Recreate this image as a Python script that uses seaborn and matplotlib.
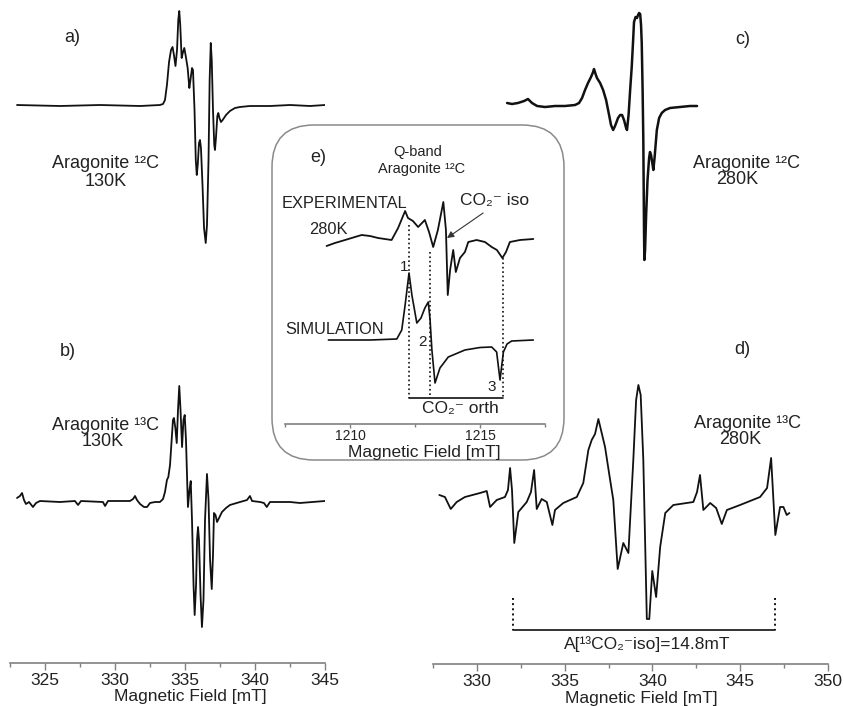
import numpy as np
import pandas as pd
import matplotlib
matplotlib.use("Agg")
import matplotlib.pyplot as plt
import seaborn as sns
from matplotlib.patches import FancyBboxPatch
from matplotlib.ticker import MultipleLocator

# ---------------- data ----------------
# a) Aragonite 12C, 130K  (field in mT, signal in arbitrary units)
A_FIELD = [323.0, 326.07, 328.93, 331.79, 333.21, 333.43, 333.57, 333.71, 333.86, 334.0,
           334.11, 334.21, 334.32, 334.43, 334.52, 334.59, 334.66, 334.76, 334.86, 334.95,
           335.04, 335.19, 335.31, 335.39, 335.5, 335.57, 335.68, 335.77, 335.84, 335.91,
           336.0, 336.07, 336.14, 336.25, 336.36, 336.48, 336.57, 336.68, 336.76, 336.84,
           336.91, 337.0, 337.09, 337.14, 337.21, 337.31, 337.38, 337.46, 337.57, 337.69,
           337.93, 338.21, 338.57, 338.93, 339.64, 341.07, 342.5, 343.93, 345.0]
A_SIGNAL = [0, -1, 0, -1, 0, 1, 5, 20, 43, 55,
            58, 50, 39, 55, 85, 94, 80, 47, 53, 57,
            50, 37, 17, 25, 37, 35, -5, -55, -70, -60,
            -38, -35, -43, -80, -123, -138, -120, -55, 25, 62,
            45, -5, -40, -45, -33, -11, -8, -13, -17, -15,
            -10, -6, -3, -2, -1, -1, 0, -1, 0]

# b) Aragonite 13C, 130K
B_FIELD = [323.0, 323.21, 323.36, 323.5, 323.64, 323.86, 324.14, 324.36, 324.64, 326.07,
           327.14, 327.36, 327.57, 329.14, 329.29, 329.5, 331.07, 331.29, 331.43, 331.57,
           331.79, 332.07, 332.29, 332.5, 332.86, 333.21, 333.43, 333.57, 333.71, 333.81,
           333.93, 334.07, 334.14, 334.21, 334.31, 334.41, 334.5, 334.59, 334.68, 334.79,
           334.89, 334.98, 335.07, 335.21, 335.32, 335.41, 335.5, 335.61, 335.69, 335.79,
           335.86, 335.93, 336.0, 336.11, 336.21, 336.32, 336.43, 336.57, 336.68, 336.79,
           336.91, 337.0, 337.07, 337.18, 337.29, 337.43, 337.64, 337.93, 338.21, 338.93,
           339.43, 339.64, 339.79, 340.36, 340.64, 340.84, 341.07, 342.5, 343.21, 345.0]
B_SIGNAL = [4, 6, 9, 2, -2, 0, -5, -1, 1, 0,
            1, -3, 1, 0, -4, 1, 1, 3, 6, 2,
            -2, -5, -5, -1, 0, 0, 3, 10, 22, 25,
            37, 67, 82, 84, 74, 59, 92, 116, 92, 55,
            82, 87, 62, -5, 12, 21, -18, -83, -113, -83,
            -38, -25, -38, -93, -125, -98, -18, 28, 2, -58,
            -87, -53, -11, -13, -20, -16, -10, -6, -3, 0,
            2, 6, 1, 0, -1, -5, 0, 0, -1, 1]

# c) Aragonite 12C, 280K
C_FIELD = [331.72, 332.00, 332.34, 332.69, 332.91, 333.14, 333.43, 333.88, 334.45, 335.02,
           335.59, 335.82, 335.99, 336.16, 336.33, 336.50, 336.62, 336.67, 336.76, 336.84,
           337.02, 337.19, 337.36, 337.53, 337.64, 337.76, 337.87, 338.04, 338.16, 338.27,
           338.38, 338.50, 338.55, 338.64, 338.73, 338.82, 338.90, 338.95, 339.04, 339.12,
           339.18, 339.24, 339.30, 339.35, 339.39, 339.44, 339.48, 339.52, 339.54, 339.58,
           339.64, 339.72, 339.81, 339.86, 339.92, 340.01, 340.05, 340.12, 340.25, 340.38,
           340.53, 340.72, 341.00, 341.57, 342.14, 342.54]
C_SIGNAL = [2, 1, 2, 4, 6, 2, -1, -2, -1, -1,
            0, 2, 7, 15, 22, 28, 33, 36, 31, 27,
            22, 15, 5, -10, -20, -25, -21, -13, -10, -10,
            -15, -23, -25, -10, 15, 38, 65, 83, 88, 87,
            90, 92, 91, 80, 62, 15, -35, -125, -155, -145,
            -110, -75, -53, -47, -50, -60, -65, -53, -25, -13,
            -8, -5, -3, -2, -1, -1]

# d) Aragonite 13C, 280K
D_FIELD = [327.86, 328.18, 328.51, 328.85, 329.32, 330.18, 330.56, 330.75, 331.13, 331.60,
           331.77, 331.89, 332.00, 332.13, 332.36, 332.84, 333.08, 333.26, 333.41, 333.69,
           333.98, 334.30, 334.45, 334.92, 335.69, 336.06, 336.35, 336.54, 336.73, 336.92,
           337.30, 337.59, 337.77, 338.02, 338.34, 338.63, 338.91, 339.07, 339.20, 339.33,
           339.48, 339.68, 339.82, 339.99, 340.21, 340.44, 340.73, 341.19, 342.33, 342.54,
           342.71, 342.90, 343.29, 343.63, 343.95, 344.24, 344.99, 346.13, 346.53, 346.76,
           347.00, 347.27, 347.46, 347.65, 347.80]
D_SIGNAL = [5, 3, -9, -2, 3, 7, 9, -7, 0, 3,
            10, 32, 10, -43, -12, -2, 8, 30, -9, 1,
            -2, -25, -10, -3, 3, 17, 50, 60, 66, 81,
            53, 20, 0, -69, -43, -53, 40, 100, 115, 105,
            40, -119, -119, -71, -97, -47, -13, -5, -2, 8,
            25, -10, -3, -8, -24, -10, -5, 3, 12, 42,
            -35, -7, -7, -15, -13]
D_HYPERFINE = [332.03, 346.99]   # A[13CO2- iso] = 14.8 mT

# e) Q-band inset
E_EXP_FIELD = [1209.10, 1209.42, 1209.81, 1210.19, 1210.45, 1210.77, 1211.08, 1211.60, 1211.85, 1212.12,
               1212.23, 1212.42, 1212.62, 1212.88, 1213.04, 1213.20, 1213.38, 1213.59, 1213.69, 1213.76,
               1213.85, 1213.97, 1214.07, 1214.23, 1214.42, 1214.55, 1214.87, 1215.19, 1215.45, 1215.65,
               1215.86, 1216.00, 1216.15, 1216.54, 1217.05]
E_EXP_SIGNAL = [-6, -3, 0, 3, 5, 4, 2, 0, 12, 29,
                22, 19, 13, 20, 8, -7, 10, 38, 10, -55,
                -30, -10, -32, -18, -12, -2, 0, -2, -7, -10,
                -18, -12, -2, 0, 1]
E_SIM_FIELD = [1209.17, 1210.77, 1211.80, 1211.99, 1212.12, 1212.27, 1212.38, 1212.57, 1212.73, 1212.88,
               1213.01, 1213.08, 1213.15, 1213.27, 1213.46, 1213.78, 1214.42, 1215.00, 1215.45, 1215.64,
               1215.77, 1215.90, 1216.04, 1216.22, 1217.05]
E_SIM_SIGNAL = [0, 0, 1, 10, 35, 67, 45, 17, 22, 32,
                38, 20, -10, -43, -28, -17, -10, -7.5, -7, -12,
                -40, -12, -4, -1, 0]
E_ORTH_FIELDS = [1212.27, 1213.08, 1215.90]

# ---------------- style ----------------
sns.set_theme(style="white")
plt.rcParams['font.family'] = ['Liberation Sans', 'DejaVu Sans']

W, H = 845, 706
fig = plt.figure(figsize=(W / 100, H / 100), dpi=100)
fig.patch.set_facecolor('white')

LINE = '#111111'
TXT = '#222222'
AXC = '#808080'


def fx(px):
    return px / W


def fy(py):
    return 1 - py / H


def make_axes(x0, x1, ybase, ytop, xlim, major, minor, labelsize, z=1,
              majlen=5, minlen=3, pad=2):
    ax = fig.add_axes([fx(x0), fy(ybase), (x1 - x0) / W, (ybase - ytop) / H])
    ax.set_zorder(z)
    ax.set_xlim(*xlim)
    ax.set_ylim(0, ybase - ytop)
    for s in ['left', 'right', 'top']:
        ax.spines[s].set_visible(False)
    ax.spines['bottom'].set_color(AXC)
    ax.spines['bottom'].set_linewidth(1.2)
    ax.set_yticks([])
    ax.xaxis.set_major_locator(MultipleLocator(major))
    ax.xaxis.set_minor_locator(MultipleLocator(minor))
    ax.tick_params(axis='x', which='both', bottom=True, direction='out',
                   colors=AXC, labelcolor=TXT, labelsize=labelsize, pad=pad)
    ax.tick_params(axis='x', which='major', length=majlen, width=1)
    ax.tick_params(axis='x', which='minor', length=minlen, width=1)
    ax.patch.set_alpha(0)
    ax.grid(False)
    return ax


def trace(ax, field, signal, base, lw=1.3):
    df = pd.DataFrame({'field': field, 'y': np.asarray(signal, float) + base})
    sns.lineplot(data=df, x='field', y='y', ax=ax, color=LINE, lw=lw,
                 sort=False, estimator=None)
    ax.set_xlabel('')
    ax.set_ylabel('')


# left column (a, b)
axL = make_axes(10, 325, 663, 0, (322.5, 345), 5, 2.5, 12.5)
trace(axL, A_FIELD, A_SIGNAL, 663 - 105)
trace(axL, B_FIELD, B_SIGNAL, 663 - 502)

# right column (c, d)
axR = make_axes(433, 828, 664, 0, (327.5, 350), 5, 2.5, 12.5)
trace(axR, C_FIELD, C_SIGNAL, 664 - 105, lw=1.8)
trace(axR, D_FIELD, D_SIGNAL, 664 - 500)
for xv in D_HYPERFINE:
    axR.plot([xv, xv], [664 - 598, 664 - 630], ls=':', color=LINE, lw=1.4)
axR.plot(D_HYPERFINE, [664 - 630] * 2, color=LINE, lw=1.2)

# inset box
box = FancyBboxPatch((2.72, (H - 460) / 100), 2.92, 3.35,
                     boxstyle="round,pad=0,rounding_size=0.42",
                     transform=fig.dpi_scale_trans, facecolor='white',
                     edgecolor='#8a8a8a', lw=1.1, zorder=2)
fig.add_artist(box)

axI = make_axes(285, 545, 424, 130, (1207.5, 1217.5), 5, 2.5, 10, z=3,
                majlen=3, minlen=2, pad=0.5)
trace(axI, E_EXP_FIELD, E_EXP_SIGNAL, 424 - 240, lw=1.3)
trace(axI, E_SIM_FIELD, E_SIM_SIGNAL, 424 - 340, lw=1.2)
for xv, top in zip(E_ORTH_FIELDS, [424 - 225, 424 - 252, 424 - 258]):
    axI.plot([xv, xv], [top, 424 - 398], ls=':', color=LINE, lw=1.2)
axI.plot([E_ORTH_FIELDS[0], E_ORTH_FIELDS[-1]], [424 - 398] * 2, color=LINE, lw=1.2)
axI.annotate('', xy=(1213.73, 424 - 238), xytext=(1215.12, 424 - 213),
             arrowprops=dict(arrowstyle='-|>', color='#333333', lw=0.8,
                             mutation_scale=10, shrinkA=0, shrinkB=0))


def t(px, py, s, size, ha='center', z=5):
    fig.text(fx(px), fy(py), s, fontsize=size, color=TXT, ha=ha, va='center', zorder=z)


# main labels
t(72, 37, 'a)', 13)
t(106, 163, 'Aragonite ¹²C', 13)
t(106, 182, '130K', 13)
t(68, 352, 'b)', 13)
t(106, 425, 'Aragonite ¹³C', 13)
t(103, 442, '130K', 13)
t(743, 40, 'c)', 13)
t(747, 163, 'Aragonite ¹²C', 13)
t(737, 180, '280K', 13)
t(742, 350, 'd)', 13)
t(748, 423, 'Aragonite ¹³C', 13)
t(740, 440, '280K', 13)
t(647, 644, 'A[¹³CO₂⁻iso]=14.8mT', 12.5)
t(190, 697, 'Magnetic Field [mT]', 12.5)
t(641, 698, 'Magnetic Field [mT]', 12.5)

# inset labels
t(318, 158, 'e)', 13)
t(418, 152, 'Q-band', 10.5)
t(422, 169, 'Aragonite ¹²C', 10.5)
t(282, 203, 'EXPERIMENTAL', 11.8, ha='left')
t(328, 230, '280K', 11.8)
t(495, 200, 'CO₂⁻ iso', 12.5)
t(285, 330, 'SIMULATION', 11.8, ha='left')
t(404, 267, '1', 11)
t(423, 342, '2', 11)
t(492, 387, '3', 11)
t(460, 408, 'CO₂⁻ orth', 12.5)
t(424, 452, 'Magnetic Field [mT]', 12.5)

fig.savefig('out.png', dpi=100, facecolor='white')
